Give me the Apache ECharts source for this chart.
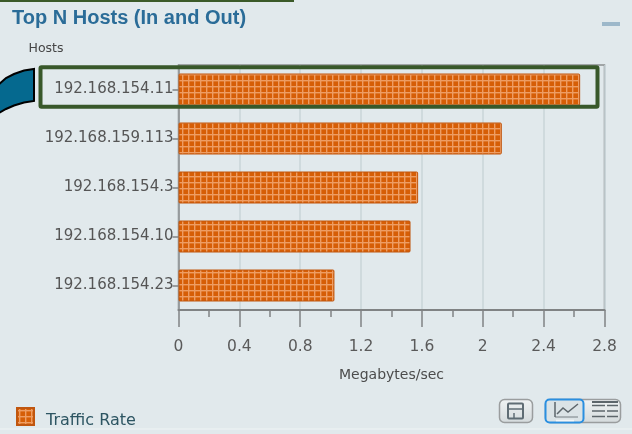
<!DOCTYPE html>
<html>
<head>
<meta charset="utf-8">
<style>html,body{margin:0;padding:0;background:#e1e9ec}#chart{width:632px;height:434px}</style>
<script src="https://cdn.jsdelivr.net/npm/echarts@6/dist/echarts.min.js"></script>
</head>
<body>
<div id="chart"></div>
<script>
// Top hosts by traffic rate
const hosts = ['192.168.154.11', '192.168.159.113', '192.168.154.3', '192.168.154.10', '192.168.154.23'];
const trafficRate = [2.64, 2.125, 1.575, 1.525, 1.025];
const seriesName = 'Traffic Rate';

// Woven fill used by the bars and the legend swatch
function weave() {
  const c = document.createElement('canvas');
  c.width = 6; c.height = 6;
  const g = c.getContext('2d');
  g.fillStyle = '#d65e06';
  g.fillRect(0, 0, 6, 6);
  g.fillStyle = '#ee9d63';
  g.fillRect(2, 0, 1.4, 6);
  g.fillRect(0, 2, 6, 1.4);
  return { image: c, repeat: 'repeat' };
}
const fill = weave();

const line = (x1, y1, x2, y2, stroke, lineWidth) => ({
  type: 'line', silent: true, z: 20,
  shape: { x1, y1, x2, y2 }, style: { stroke, lineWidth }
});
const box = (x, y, width, height, r, style) => ({
  type: 'rect', silent: true, z: 20, shape: { x, y, width, height, r }, style
});
const buttonFace = {
  type: 'linear', x: 0, y: 0, x2: 0, y2: 1,
  colorStops: [{ offset: 0, color: '#f0f3f4' }, { offset: 1, color: '#d4dadc' }]
};

const tableRows = [];
[405.5, 411, 416.5].forEach(y => {
  tableRows.push(line(592, y, 605, y, '#5d666b', 1.5), line(607, y, 618, y, '#5d666b', 1.5));
});

const arrowTail = [[-3, 86], [6, 78], [14, 74], [24, 70.5], [34, 69], [34, 101], [24, 102.5], [14, 105.5], [6, 109], [-3, 114]];

const decorations = [
  // header rule and panel foot
  box(0, 0, 294, 2, 0, { fill: '#3b5a28' }),
  line(0, 429, 632, 429, '#eff4f5', 1),
  // collapse control
  box(602, 22, 18, 4, 0, { fill: '#9db8ca' }),
  // callout arrow tail and highlight around the top host
  { type: 'polygon', silent: true, z: 20, shape: { points: arrowTail },
    style: { fill: '#05698f', stroke: '#000', lineWidth: 2 } },
  box(40.5, 67.3, 557, 39.4, 1, { fill: 'none', stroke: '#38582a', lineWidth: 4 }),
  // save button
  box(499.5, 399.5, 33, 23, 5, { fill: buttonFace, stroke: '#9a9d9e', lineWidth: 1.5 }),
  box(508, 403.5, 15, 15, 1, { fill: 'none', stroke: '#5f6c74', lineWidth: 2 }),
  line(508, 409, 523, 409, '#5f6c74', 1.5),
  line(514, 413, 514, 419, '#5f6c74', 1.5),
  // chart / table toggle
  box(545.5, 399.5, 75, 23, 5, { fill: buttonFace, stroke: '#9a9d9e', lineWidth: 1.5 }),
  box(545.5, 399.5, 38, 23, 4, { fill: '#dbe3e6', stroke: '#2a8fe0', lineWidth: 2 }),
  line(555, 402, 555, 417, '#5d666b', 1.5),
  line(555, 417, 578, 417, '#5d666b', 0.8),
  { type: 'polyline', silent: true, z: 20,
    shape: { points: [[557, 414], [563, 408], [568, 412], [578, 404]] },
    style: { fill: 'none', stroke: '#5d666b', lineWidth: 1.5 } },
  line(556, 420.5, 574, 420.5, '#f4f6f7', 1.5),
  ...tableRows,
  box(592, 401, 26, 2, 0, { fill: '#5d666b' })
];

const chart = echarts.init(document.getElementById('chart'), null, { renderer: 'canvas' });
chart.setOption({
  animation: false,
  backgroundColor: '#e1e9ec',
  title: {
    text: 'Top N Hosts (In and Out)', left: 7, top: 3,
    textStyle: { fontFamily: 'Liberation Sans', fontSize: 20, fontWeight: 'bold', color: '#2a6c98' }
  },
  legend: {
    left: 11, top: 402, itemWidth: 17, itemHeight: 17, icon: 'rect',
    formatter: '{t|{name}}',
    textStyle: {
      rich: {
        t: { fontFamily: 'DejaVu Sans', fontSize: 16, color: '#2d5562', padding: [8, 0, 0, 7] }
      }
    }
  },
  grid: {
    left: 178.5, right: 27.5, top: 65, bottom: 124, show: true,
    backgroundColor: 'transparent', borderColor: '#8b8e8f', borderWidth: 1.5
  },
  xAxis: {
    type: 'value', min: 0, max: 2.8, interval: 0.4,
    name: 'Megabytes/sec', nameLocation: 'middle', nameGap: 58,
    nameTextStyle: { fontFamily: 'DejaVu Sans', fontSize: 14, color: '#4c4c4c' },
    axisLine: { show: true, lineStyle: { color: '#808384', width: 2 } },
    axisTick: { show: true, length: 17, lineStyle: { color: '#808384', width: 1.5 } },
    minorTick: { show: true, splitNumber: 2, length: 7, lineStyle: { color: '#808384', width: 1.5 } },
    splitLine: { show: true, lineStyle: { color: '#c8d5d8', width: 1.5 } },
    axisLabel: {
      margin: 29, fontFamily: 'DejaVu Sans', fontSize: 15.5, color: '#5a5a5a',
      showMinLabel: true, showMaxLabel: true, hideOverlap: false
    }
  },
  yAxis: {
    type: 'category', data: hosts, inverse: true,
    name: 'Hosts', nameLocation: 'start', nameGap: 10,
    nameTextStyle: { fontFamily: 'DejaVu Sans', fontSize: 12.5, color: '#454545', align: 'right', padding: [0, 115, 0, 0] },
    axisLine: { show: true, lineStyle: { color: '#8b8e8f', width: 1.5 } },
    axisTick: { show: true, alignWithLabel: true, length: 6, lineStyle: { color: '#808384', width: 1.5 } },
    axisLabel: { margin: 5, fontFamily: 'DejaVu Sans', fontSize: 15, color: '#555', interval: 0, padding: [0, 0, 3, 0] }
  },
  series: [{
    name: seriesName, type: 'bar', data: trafficRate, barWidth: 32,
    itemStyle: { color: fill, borderColor: '#c0560f', borderWidth: 1, borderRadius: 1 }
  }],
  graphic: decorations
});
</script>
</body>
</html>
